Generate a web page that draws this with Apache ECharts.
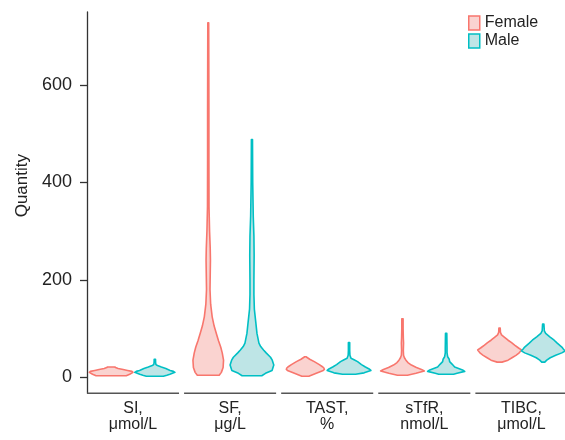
<!DOCTYPE html>
<html>
<head>
<meta charset="utf-8">
<script src="https://cdn.jsdelivr.net/npm/echarts@6/dist/echarts.min.js"></script>
<style>html,body{margin:0;padding:0;background:#fff;}#chart{width:565px;height:440px;}</style>
</head>
<body>
<div id="chart"></div>
<script>
// Categories and tick labels
const categories = ['SI,\nμmol/L', 'SF,\nμg/L', 'TAST,\n%', 'sTfR,\nnmol/L', 'TIBC,\nμmol/L'];
const yTicks = [0, 200, 400, 600];
const groups = ['Female', 'Male'];

// Violin profiles: [value, relative density (0..1)]
const femaleSI = [[3,.69],[6,.85],[10,1.0],[12,.95],[14,.75],[16,.55],[18,.32],[20,.2],[21,.17]];
const maleSI = [[2,.39],[4,.55],[6,.69],[10,.92],[12,.85],[14,.7],[18,.5],[21,.3],[24,.12],[26,.05],[30,.035],[37,.03]];
const femaleSF = [[4,.5],[10,.6],[20,.68],[35,.7],[50,.64],[62,.57],[75,.47],[90,.37],[105,.27],[124,.18],[150,.11],[180,.08],[210,.09],[240,.1],[265,.09],[300,.06],[350,.035],[450,.03],[550,.03],[650,.025],[728,.02]];
const maleSF = [[3,.45],[8,.62],[14,.92],[25,1.0],[35,.93],[41,.85],[50,.65],[56,.53],[63,.4],[70,.32],[90,.23],[111,.18],[140,.11],[170,.09],[200,.09],[250,.1],[290,.09],[330,.06],[400,.035],[488,.025]];
const femaleTAST = [[2,.16],[8,.5],[14,.82],[16,.87],[19,.85],[21,.8],[26,.64],[32,.41],[37,.2],[42,.03]];
const maleTAST = [[6,.3],[9,.69],[14,1.0],[17,.92],[21,.75],[26,.57],[32,.39],[36,.23],[39,.09],[45,.04],[55,.03],[71,.03]];
const femaleSTfR = [[4,.23],[8,.62],[13,1.0],[16,.87],[20,.64],[25,.41],[30,.25],[35,.16],[40,.09],[45,.05],[55,.04],[70,.05],[80,.04],[100,.03],[120,.03]];
const maleSTfR = [[6,.34],[8,.5],[12,.85],[15,.75],[21,.39],[27,.27],[32,.16],[37,.14],[42,.07],[50,.04],[60,.04],[90,.03]];
const femaleTIBC = [[31,.11],[35,.39],[40,.57],[45,.75],[50,.9],[56,1.0],[60,.87],[66,.69],[71,.55],[76,.39],[82,.23],[87,.09],[92,.04],[101,.03]];
const maleTIBC = [[31,.07],[35,.16],[40,.32],[45,.57],[50,.85],[54,1.0],[58,.92],[62,.85],[70,.64],[76,.5],[83,.3],[90,.11],[95,.05],[109,.03]];

const femaleProfiles = [femaleSI, femaleSF, femaleTAST, femaleSTfR, femaleTIBC];
const maleProfiles = [maleSI, maleSF, maleTAST, maleSTfR, maleTIBC];

const Y_MIN = -33, Y_MAX = 750;
const HALF = 0.225;   // half of the max violin width in category units
const DODGE = 0.225;  // dodge offset

const colors = {
  Female: { line: '#F8766D', fill: '#FAD3D0' },
  Male: { line: '#00BFC4', fill: '#BEE5E6' }
};

function violinRender(profiles, offset, col) {
  return function (params, api) {
    const i = api.value(0);
    const prof = profiles[i];
    const right = prof.map(p => api.coord([i + offset + p[1] * HALF, p[0]]));
    const left = prof.slice().reverse().map(p => api.coord([i + offset - p[1] * HALF, p[0]]));
    return {
      type: 'polygon',
      shape: { points: right.concat(left) },
      style: { fill: col.fill, stroke: col.line, lineWidth: 1.6, lineJoin: 'round' }
    };
  };
}

const chart = echarts.init(document.getElementById('chart'), null, { renderer: 'canvas' });
const FONT = "'Liberation Sans', Arial, Helvetica, sans-serif";

chart.setOption({
  animation: false,
  backgroundColor: '#fff',
  textStyle: { fontFamily: FONT },
  grid: { left: 87, right: 0, top: 12, bottom: 46.7, containLabel: false },
  legend: {
    orient: 'vertical',
    left: 468,
    top: 15,
    padding: 0,
    itemWidth: 11,
    itemHeight: 14,
    itemGap: 2,
    textStyle: { fontSize: 16, color: '#222', fontFamily: FONT },
    data: groups.map(g => ({
      name: g, icon: 'rect',
      itemStyle: { color: colors[g].fill, borderColor: colors[g].line, borderWidth: 1.5 }
    }))
  },
  xAxis: {
    type: 'value',
    min: -0.4737,
    max: 4.449,
    axisLine: { show: false, onZero: false },
    axisTick: { show: false },
    splitLine: { show: false },
    axisLabel: {
      customValues: [0, 1, 2, 3, 4],
      formatter: v => categories[Math.round(v)],
      fontSize: 16,
      lineHeight: 16,
      color: '#222',
      margin: 7,
      fontFamily: FONT
    }
  },
  yAxis: {
    type: 'value',
    min: Y_MIN,
    max: Y_MAX,
    name: 'Quantity',
    nameLocation: 'middle',
    nameRotate: 90,
    nameGap: 49,
    nameTextStyle: { fontSize: 17, color: '#222', fontFamily: FONT, padding: [0, 0, 0, 34] },
    axisLine: { show: true, onZero: false, lineStyle: { color: '#333', width: 1.3 } },
    axisTick: { show: true, length: 7, customValues: yTicks, lineStyle: { color: '#333', width: 1.3 } },
    splitLine: { show: false },
    axisLabel: { customValues: yTicks, fontSize: 18, color: '#222', margin: 15, fontFamily: FONT }
  },
  series: [
    {
      type: 'custom',
      name: 'axisSegments',
      silent: true,
      data: categories.map((c, i) => [i, Y_MIN]),
      renderItem: function (params, api) {
        const i = api.value(0);
        const a = api.coord([i - 0.474, Y_MIN]);
        const b = api.coord([i + 0.474, Y_MIN]);
        return { type: 'line', shape: { x1: a[0], y1: a[1], x2: b[0], y2: b[1] }, style: { stroke: '#555', lineWidth: 1.6 } };
      },
      z: 1
    },
    {
      type: 'custom',
      name: 'Female',
      itemStyle: { color: colors.Female.fill, borderColor: colors.Female.line },
      data: categories.map((c, i) => [i, femaleProfiles[i][femaleProfiles[i].length - 1][0]]),
      renderItem: violinRender(femaleProfiles, -DODGE, colors.Female),
      z: 2
    },
    {
      type: 'custom',
      name: 'Male',
      itemStyle: { color: colors.Male.fill, borderColor: colors.Male.line },
      data: categories.map((c, i) => [i, maleProfiles[i][maleProfiles[i].length - 1][0]]),
      renderItem: violinRender(maleProfiles, DODGE, colors.Male),
      z: 2
    }
  ]
});
</script>
</body>
</html>
